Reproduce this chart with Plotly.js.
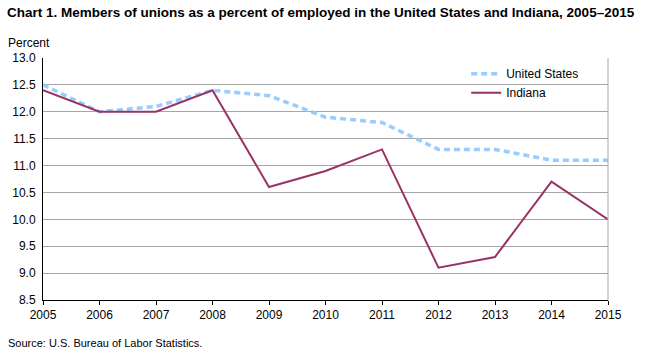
<!DOCTYPE html>
<html><head><meta charset="utf-8">
<script src="https://cdn.plot.ly/plotly-3.0.1.min.js"></script>
<style>body{margin:0;background:#fff}#c{width:650px;height:353px}</style>
</head><body><div id="c"></div>
<script>
const years = [2005,2006,2007,2008,2009,2010,2011,2012,2013,2014,2015];
const unitedStates = [12.5,12.0,12.1,12.4,12.3,11.9,11.8,11.3,11.3,11.1,11.1];
const indiana = [12.4,12.0,12.0,12.4,10.6,10.9,11.3,9.1,9.3,10.7,10.0];
const yTicks = [8.5,9.0,9.5,10.0,10.5,11.0,11.5,12.0,12.5,13.0];

const traces = [
  {x: years, y: unitedStates, name: 'United States', mode: 'lines',
   line: {color: '#99CCFF', width: 3.5, dash: '6px,4px'}},
  {x: years, y: indiana, name: 'Indiana', mode: 'lines',
   line: {color: '#993366', width: 2}}
];
const layout = {
  width: 650, height: 353,
  margin: {l: 43, r: 42, t: 58, b: 53},
  paper_bgcolor: '#fff', plot_bgcolor: '#fff',
  font: {family: 'Arial, Liberation Sans, sans-serif', size: 12, color: '#000'},
  showlegend: true,
  legend: {x: 0.749, y: 0.995, xanchor: 'left', yanchor: 'top', bgcolor: 'rgba(0,0,0,0)',
           font: {size: 12}, tracegroupgap: 0},
  xaxis: {range: [2005, 2015], tickvals: years, ticktext: years.map(String),
          showgrid: false, showline: true, linecolor: '#000', linewidth: 1,
          ticks: 'outside', ticklen: 4, tickcolor: '#000', zeroline: false,
          tickfont: {size: 12}, fixedrange: true, mirror: false},
  yaxis: {range: [8.5, 13.0], tickvals: yTicks, ticktext: yTicks.map(v => v.toFixed(1)),
          showgrid: true, gridcolor: '#A6A6A6', gridwidth: 1,
          showline: true, linecolor: '#000', linewidth: 1, ticks: '', zeroline: false,
          tickfont: {size: 12}, ticklabelstandoff: 4},
  shapes: [{type: 'line', xref: 'paper', yref: 'paper', x0: 1, x1: 1, y0: 0, y1: 1,
            line: {color: '#A6A6A6', width: 1}}],
  annotations: [
    {text: '<b>Chart 1. Members of unions as a percent of employed in the United States and Indiana, 2005–2015</b>',
     xref: 'paper', yref: 'paper', x: -0.068, y: 1, xanchor: 'left', yanchor: 'bottom', yshift: 36,
     showarrow: false, font: {family: 'Liberation Sans Narrow, Arial Narrow, Arial, sans-serif', size: 13.5}},
    {text: 'Percent', xref: 'paper', yref: 'paper', x: -0.066, y: 1, xanchor: 'left', yanchor: 'bottom', yshift: 6,
     showarrow: false, font: {size: 12}},
    {text: 'Source: U.S. Bureau of Labor Statistics.', xref: 'paper', yref: 'paper', x: -0.066, y: 0,
     xanchor: 'left', yanchor: 'top', yshift: -35, showarrow: false,
     font: {family: 'Liberation Sans Narrow, Arial Narrow, Arial, sans-serif', size: 11}}
  ]
};
Plotly.newPlot('c', traces, layout, {staticPlot: true});
</script></body></html>
